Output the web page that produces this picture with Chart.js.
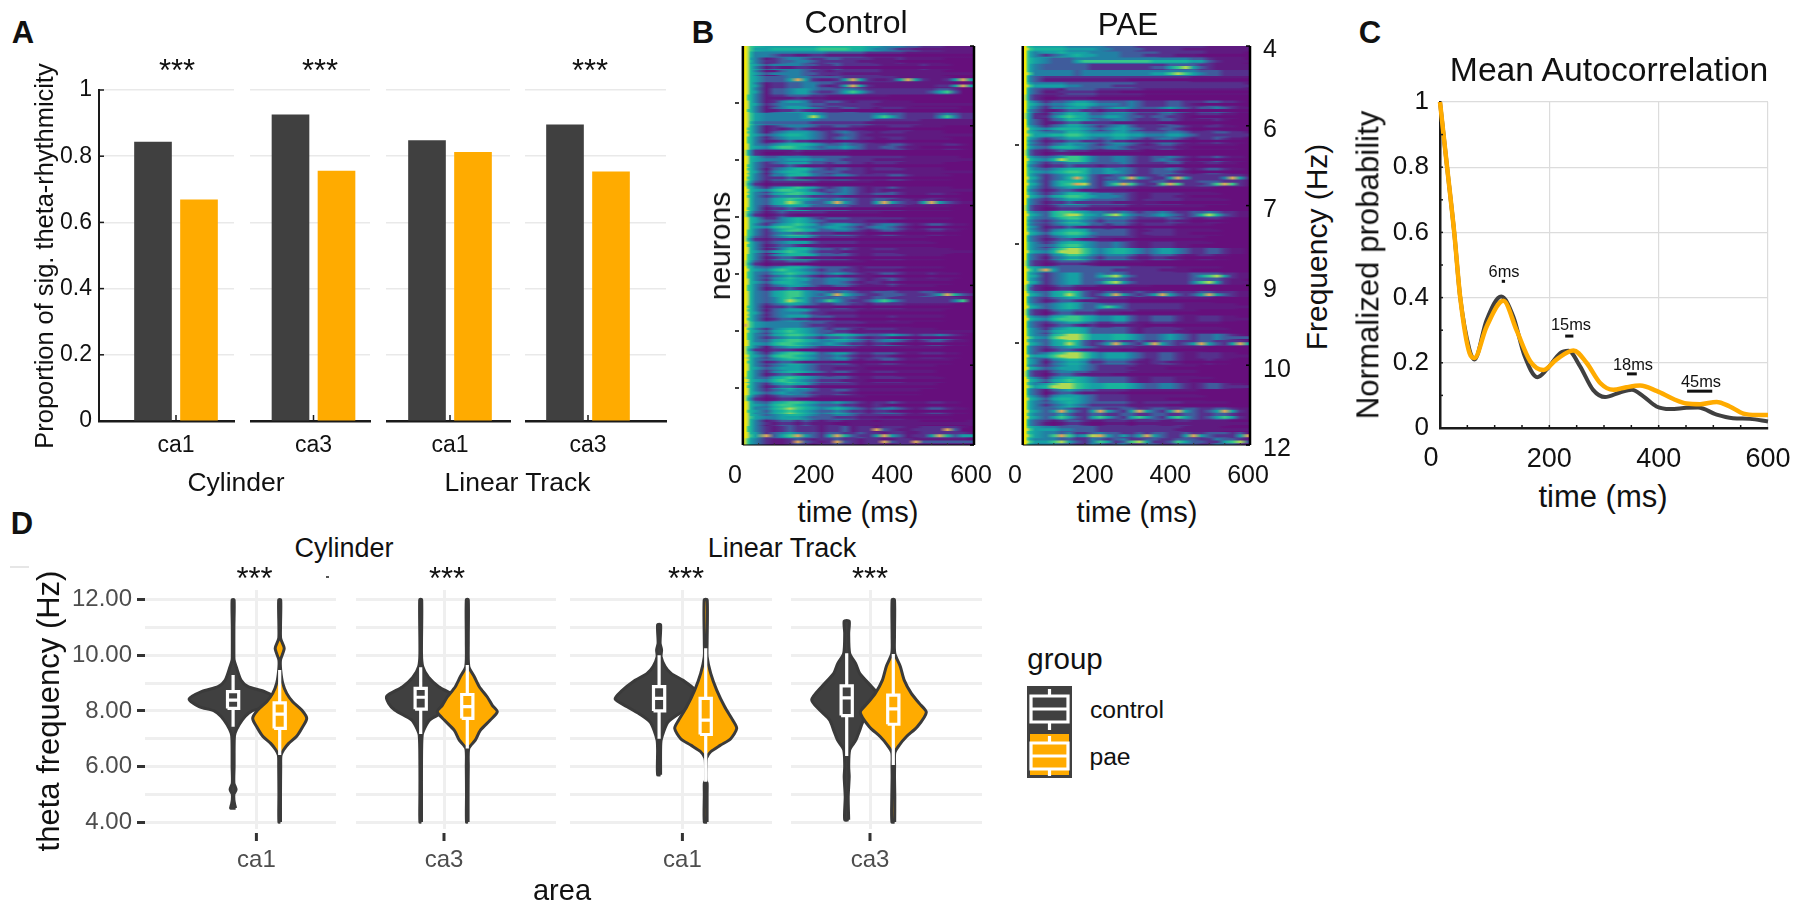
<!DOCTYPE html>
<html>
<head>
<meta charset="utf-8">
<title>Theta rhythmicity</title>
<style>
body { margin: 0; width: 1800px; height: 908px; background: #fff; position: relative; overflow: hidden; font-family: "Liberation Sans", Arial, sans-serif; }
canvas { position: absolute; filter: blur(0.35px); }
.t { position: absolute; white-space: nowrap; color: #111; transform: translate(-50%, -50%); line-height: 1; }
canvas.heat { filter: blur(0.7px); }
</style>
<script src="https://cdn.jsdelivr.net/npm/chart.js@4"></script>
</head>
<body>
<script>
// ---- panel A
const areaLabels = ['ca1', 'ca3', 'ca1', 'ca3'];
const controlProportion = [0.843, 0.925, 0.847, 0.895];
const paeProportion = [0.668, 0.755, 0.812, 0.753];
const proportionTicks = [0, 0.2, 0.4, 0.6, 0.8, 1];

// ---- panel B, one string per neuron, one character per time bin (0-9 colour level, a = hot streak)
// a short string keeps its last level up to the end of the row
const heatTimes = [20, 27, 33, 40, 52, 80, 100, 120, 140, 160, 180, 200, 220, 240, 260, 280, 300, 320, 340, 360, 380, 400, 420, 440, 460, 480, 500, 520, 540, 560, 580, 600];
const heatColours = ['#660f7c', '#5f1a80', '#55308c', '#3f5c9c', '#2280a4', '#16a0a4', '#18b49c', '#38c88a', '#b0da54', '#f6ea08', '#dca65c'];
const frequencyTicks = ['4', '6', '7', '9', '10', '12'];
const controlRows = [
  '99876555555566666655444332221111', '99864444444443333322222111111111', '99854123443223322221112111110000', '99865344443322322222111112111000',
  '99864113443221222222111111110000', '99865333444333322222221111111000', '99864122334433222111111111111000', '99864133455433344322222222233200',
  '99764122333221111111100000000000', '99864124554223321222111100000000', '99864134555432233221222111111100', '99875444445543333334433222234322',
  '99875444444433333332222221111111', '99864123444322332211122211110000', '99764134555432343221222111110000', '99764234555432343221122111111000',
  '99864345666543343322233211112210', '98642111121111110000000000000000', '99865334444333332222222111111100', '99864234555332332212221111110000',
  '99764134566432332212222111110000', '99864244666433443222233211111000', '98753122222211111110000000000000', '99764245676532343212232111111000',
  '99864356776543443223332111221100', '99864356765433433223322212211100', '99864234555333332222222111111000', '98753123222221111111000000000000',
  '99865224565323332222222111111000', '99864245676534554323443212332110', '99764246776533443212332111221100', '98753234555322222111111111000000',
  '99864234555322222111111111100000', '99864124666433232112221111111000', '99764245666533332112222111110000', '98753122333211111100000000000000',
  '99764345665433332122222111110000', '99764356765434543212332111211100', '99864245655334443212232111111000', '99764234554322332111121111100000',
  '99864356775443343223332223322110', '99864346755333433223322222222210', '99864234554322332212222111111000', '99764134555322222111111111110000',
  '99864234555333222111121111110000', '99875444443332222211111100000000', '99764245665432332122221111100000', '99764356776545665433454323343210',
  '99864356776544554323443212332110', '98764134554322222111111111110000', '98764246776534553223332112221100', '99864345665433442122332111111000',
  '99864234554322222111111111100000', '99764245665432332112221111100000', '98764356765433332112222111110000', '99864245655322222111111111100000',
  '99864234544322332111111110000000', '98753123333211111100000000000000', '99864356776544543212232111221100', '99864467876545654323443212332110',
  '99865345665433443222222111111000', '99864123323212211110111110000001', '99764212322212231221222112222210', '99865234543323322322122112222221', '98754211232122322122112211111110'
];
const controlFine = [
  '99875566666677776654432211', '99864432211221111100000', '99864223344322222111110', '99864121122111100000',
  '99865344443322211111111', '998653335a521125a521125a521125a5', '9986512233442125a5211111111225a5', '99865133455322357532222222357300',
  '99764111121110000', '99865234444332222221111', '99764112232111100', '99875444445853333335753222247422',
  '99864333333222222211111', '99764121232111111000', '99865345665432233211111', '99764112322111011100',
  '99865467765434454322332110', '9864200011000', '99865444555443322221111', '99764222321111000',
  '99865245665333322211111', '99764222321110000', '98642011110000', '99865467765323343212111',
  '99764234443222211111000', '99864356874335a53225a53225a53211', '99764122321111000', '98642012100000',
  '99865334565432222211100', '99865467765445543234432100', '99764234433222111100', '98642122210000',
  '99764123321110000', '99865356765322211111', '99764123321111000', '98642011100000',
  '99865467654323322111110', '99764234543212211110', '99865356654334432122110', '99764122321100',
  '99864356775435a6432233322235a632', '99864346875347532235753222222470', '99764122321111000', '99865234443221111000',
  '99764123322111000', '9a875444443222111000', '99865356765433221111', '99764234554323343212210',
  '99865467765445432212210', '98642122210000', '99865367765433432112210', '99764123321111000',
  '99865345554322111100', '99764123321111000', '99865467654322211100', '99764123321100',
  '99865345443222211000', '98642012210000', '99865467765433322112100', '99765356765433432212210',
  '99875445554333222111000', '99864212212111001', '9976421232221223122a32112222a30', '99875a357a5325a63225a531225a635', '987542112a3212a32122a322a3'
];
const paeRows = [
  '99765555444443333222222222111111', '99754556555444433333222222111110', '99765433344444444444444433211110', '99754333333222222222233332211111',
  '99754444434444444444444443332222', '99643222222222222222222211111111', '99754444333333333222222222222221', '99643221333322222211111111111111',
  '98632112222211111100000000000000', '99754233455433334322233222332210', '99754244555334554333454323343211', '98642134655334443222332112221100',
  '99643134665433443222332111121000', '99754234554323453222233211221100', '99765444665444554433344322233221', '99754234555434554323443212232110',
  '99643234544323443212332111111100', '98632123222111111100000000000000', '99754345776433443223343212232110', '99754233444333343222233111221100',
  '99754345666445443223343212332110', '99754234565322332222322222222221', '99754246665324433223322223332221', '99754234554322222111111111100000',
  '99754234666444332112222111110000', '99643234554333332122222111111000', '98632123333222221111111111000000', '99754367765443343233432233432211',
  '99754346775434443222233211221000', '99643234555332332122221111100000', '99754245665333332112221111110000', '99643234554322222111111111000000',
  '99754235665433432112221111100000', '99754357887545665434554322332110', '99643245776434443223332112211000', '98632123333211111100000000000000',
  '99765443333333332222221111110000', '99754234553343432222222233332211', '99754234553334432222222233332110', '98642123322211111110000000000000',
  '99754356763223322322332223322211', '99643234554322221111111111100000', '99754345653343332222222111111100', '98632134433322222111111110000000',
  '99754356776544553223332112221100', '99643234554322332112221111110000', '99754245665333332122222111111000', '99754367887555665433454323343210',
  '99754356763223322322332223322221', '99643234554322222111111111000000', '99643467887545554322332112221100', '99754245665334443212332111211000',
  '99643234554322222111111110000000', '98632134433222221111111110000000', '99754245665433332112221111100000', '99754578876556665433443212332110',
  '99643134543322221111111110000000', '99754245554322221111111111000000', '99754345654333332122222111111000', '99754334322332233223322332233211',
  '99754335322332233223322332233211', '99643212332112221222112211111000', '99765443333322222222222111110000', '99765443422343322323322322333231', '99754443322432342233223332243321'
];
const paeFine = [
  '99876666555544333322222111', '99754234565544433322221110', '9976543335777777777666665532111', '9975433333322222222335785321111',
  '9987444443444444444557875433222', '99643111111111110000', '99875555443333222222222', '99643112222211100000',
  '98632001111000', '99765344566544434322233210', '99643112332212221111110', '98642246765445543323322100',
  '99643112332222111111000', '99865456665434554322332100', '99875566776555665544455432', '99643122332223221111110',
  '99754356654334432222221100', '98632011100000', '99865468776433443223432100', '99643122322212221111100',
  '99765456776445543223332100', '998652346a632336a53225a522224a52', '998652467a83247a73227a722237a721', '99643123321111110000',
  '99865356776544432112221100', '99643122322222111111000', '98632012221111000', '99865367886547864334543236863211',
  '99643234554323332111121100', '99754122321111000', '99865356776433332122221100', '99643123321111000',
  '99754346775433432112221100', '99865468887545665434554322332110', '99643134554323332112211000', '98632012221100000',
  '99875a53333333222222111100', '99765234553357853222222235785211', '998652345533478532222222478521', '98632012210000',
  '99865356863235a53235a53235a53211', '99643123321111110000', '99865345653357532222222111111', '98632023322211100000',
  '99865467776544553223332112221', '99643123321211111100', '99754356665333332122221100', '99875478887555665433454323343',
  '99865356863235a5325a53235a5325a5', '99643123321111100000', '99865578887545554322332112221', '99754134554223332112211000',
  '99865345554322221111100', '98632023321111000', '99865356765433332112221100', '99875688876556665433443212332',
  '99643023321111100000', '99865356654322221111100', '99754234543222221111100', '9986535a5325a5325a5325a53235a521',
  '99865357532575325753257532357521', '99643101221001110111', '99875554433322222222221', '9987547a7458a53535a53225a532225a', '99875578532475237852237533225783'
];

// ---- panel C
const autocorrTimeControl = [0, 13, 26, 37, 54, 63, 85, 112, 134, 155, 178, 195, 220, 235, 256, 280, 302, 329, 351, 372, 396, 421, 451, 472, 506, 536, 567, 600];
const autocorrControl = [1, 0.8, 0.6, 0.4, 0.24, 0.21, 0.33, 0.403, 0.342, 0.22, 0.156, 0.179, 0.23, 0.237, 0.19, 0.117, 0.095, 0.109, 0.117, 0.097, 0.066, 0.058, 0.062, 0.063, 0.041, 0.03, 0.028, 0.02];
const autocorrTimePae = [0, 13, 26, 37, 54, 63, 85, 116, 140, 165, 189, 213, 244, 268, 293, 317, 341, 366, 396, 427, 451, 476, 506, 530, 555, 579, 600];
const autocorrPae = [1, 0.8, 0.6, 0.4, 0.23, 0.215, 0.31, 0.39, 0.3, 0.205, 0.178, 0.21, 0.238, 0.2, 0.138, 0.117, 0.125, 0.13, 0.114, 0.089, 0.075, 0.073, 0.08, 0.066, 0.044, 0.04, 0.04];
const lagLabels = ['6ms', '15ms', '18ms', '45ms'];
const lagStart = [113, 229, 342, 452];
const lagEnd = [119, 244, 360, 498];
const lagHeight = [0.45, 0.282, 0.166, 0.113];

// ---- panel D, violin outlines: frequency levels and half widths
const cylCa1CtrlF = [4.5, 4.65, 4.8, 5, 5.17, 5.4, 6, 6.5, 7, 7.2, 7.5, 7.8, 8, 8.15, 8.43, 8.7, 8.87, 9.1, 9.6, 9.83, 10, 11, 12];
const cylCa1CtrlW = [2.5, 1.5, 0.8, 0.8, 3, 0.8, 1, 1, 1.2, 2, 6, 12, 19, 34, 44, 31, 15, 8, 3, 1, 0.8, 0.8, 1];
const cylCa1PaeF = [4, 5, 6, 6.4, 6.6, 6.83, 7.07, 7.37, 7.73, 8.03, 8.33, 8.63, 9, 9.47, 9.83, 10.25, 10.6, 11, 12];
const cylCa1PaeW = [0.8, 0.8, 1, 1.3, 4, 9, 16.5, 22, 27, 22, 13, 7, 3, 1, 0.8, 4.5, 1, 0.8, 1];
const cylCa3CtrlF = [4, 5, 6, 7.13, 7.45, 7.67, 8.03, 8.27, 8.53, 8.87, 9.2, 9.6, 10.07, 12];
const cylCa3CtrlW = [0.8, 0.8, 0.8, 1.5, 5, 9, 26, 32, 34, 18, 8, 2, 0.8, 1];
const cylCa3PaeF = [4, 5, 6, 6.65, 6.95, 7.3, 7.67, 7.97, 8.2, 8.5, 8.87, 9.23, 9.6, 10.5, 12];
const cylCa3PaeW = [0.8, 0.8, 1, 1.5, 8, 13, 23, 30, 25, 20, 12, 7, 1.5, 1, 1];
const linCa1CtrlF = [5.7, 6.6, 6.94, 7.3, 7.6, 7.85, 8.15, 8.43, 8.7, 9.1, 9.35, 9.6, 9.95, 10.2, 10.43, 11.1];
const linCa1CtrlW = [1.5, 1.5, 2, 5, 9, 18, 32, 44, 38, 24, 12, 6, 2, 2.5, 1, 1.5];
const linCa1PaeF = [4, 5, 5.4, 5.5, 6, 6.3, 6.53, 6.77, 7, 7.37, 7.67, 8.15, 8.75, 9.35, 9.95, 10.43, 12];
const linCa1PaeW = [1.4, 1.4, 1.4, 0.2, 0.2, 0.8, 5, 15, 25, 31, 27, 19, 11, 5, 1.4, 1.4, 1.5];
const linCa3CtrlF = [4.08, 4.9, 5.63, 6, 6.6, 6.94, 7.3, 7.67, 8.03, 8.4, 8.87, 9.35, 9.7, 10.07, 10.8, 11.23];
const linCa3CtrlW = [2, 1.5, 2.5, 2, 3, 9, 13, 17, 27, 35, 25, 13, 9, 3, 2, 2.5];
const linCa3PaeF = [4, 4.9, 5.6, 6, 6.5, 6.77, 7.07, 7.43, 7.95, 8.27, 8.63, 9.1, 9.6, 10.07, 10.7, 12];
const linCa3PaeW = [1.4, 1.5, 1.2, 1.3, 1.5, 6, 13, 24, 33, 26, 18, 11, 7, 1.5, 1.2, 1.2];
// low whisker, q1, median, q3, high whisker
const boxControl = [[7.43, 8.09, 8.39, 8.69, 9.29], [7.17, 8.06, 8.49, 8.81, 9.57], [7, 8, 8.45, 8.87, 10], [6.38, 7.83, 8.47, 8.9, 10.07]];
const boxPae = [[6.41, 7.37, 7.88, 8.29, 9.47], [6.65, 7.73, 8.15, 8.59, 9.65], [5.45, 7.15, 7.67, 8.45, 10.25], [6.05, 7.52, 8.07, 8.57, 10.05]];
const freqTicks = [4, 5, 6, 7, 8, 9, 10, 11, 12];

const DARK = '#404040', ORANGE = '#ffab00', INK = '#1a1a1a';
Chart.defaults.font.family = '"Liberation Sans", Arial, sans-serif';
Chart.defaults.color = '#111';

function label(text, x, y, size, opt) {
  opt = opt || {};
  let d = document.createElement('div');
  d.className = 't';
  d.textContent = text;
  d.style.left = x + 'px';
  d.style.top = y + 'px';
  d.style.fontSize = size + 'px';
  if (opt.bold) d.style.fontWeight = 'bold';
  if (opt.color) d.style.color = opt.color;
  if (opt.rot) d.style.transform = 'translate(-50%, -50%) rotate(-90deg)';
  document.body.appendChild(d);
}

// canvas sized around an exact plot box
function makeCanvas(p, cls) {
  let c = document.createElement('canvas');
  c.width = p.x1 - p.x0 + p.l + p.r;
  c.height = p.y1 - p.y0 + p.t + p.b;
  c.style.left = (p.x0 - p.l) + 'px';
  c.style.top = (p.y0 - p.t) + 'px';
  if (cls) c.className = cls;
  document.body.appendChild(c);
  return c;
}
function fit(size) {
  return s => {
    if (s.isHorizontal()) { s.height = size; s.paddingLeft = 0; s.paddingRight = 0; }
    else { s.width = size; s.paddingTop = 0; s.paddingBottom = 0; }
  };
}
function at(values) {
  return s => { s.ticks = values.map(v => ({ value: v })); };
}
const baseOptions = p => ({
  responsive: false, animation: false, devicePixelRatio: 1, events: [],
  layout: { padding: { top: p.t, right: p.r, left: 0, bottom: 0 } },
  plugins: { legend: { display: false }, tooltip: { enabled: false }, filler: { drawTime: 'beforeDatasetDraw' } }
});
// short ticks drawn inside the plot
function innerTicks(list) {
  return {
    id: 'innerTicks',
    afterDatasetsDraw(chart) {
      const c = chart.ctx, a = chart.chartArea;
      c.save();
      list.forEach(k => {
        c.strokeStyle = k.color || INK;
        c.lineWidth = k.width || 1.5;
        k.values.forEach(v => {
          let s = chart.scales[k.scale].getPixelForValue(v);
          c.beginPath();
          if (k.edge === 'bottom') { c.moveTo(s, a.bottom + (k.gap || 0)); c.lineTo(s, a.bottom + (k.gap || 0) + k.len); }
          if (k.edge === 'left') { c.moveTo(a.left, s); c.lineTo(a.left + k.len, s); }
          if (k.edge === 'right') { c.moveTo(a.right, s); c.lineTo(a.right - k.len, s); }
          if (k.edge === 'up') { c.moveTo(s, a.bottom); c.lineTo(s, a.bottom - k.len); }
          c.stroke();
        });
      });
      c.restore();
    }
  };
}

// ---------- A
const facetsA = [[99, 233.5, 176], [250, 370, 313.5], [386, 510, 450], [525, 666, 588]];
facetsA.forEach((f, i) => {
  const p = { x0: f[0], x1: Math.round(f[1]), y0: 90, y1: 421, l: i ? 0 : 99, r: 4, t: 16, b: 50 };
  const unit = 46;
  const o = baseOptions(p);
  o.scales = {
    x: { type: 'linear', offset: false, min: (f[0] - f[2]) / unit, max: (p.x1 - f[2]) / unit, afterBuildTicks: at([0]), afterFit: fit(p.b),
      grid: { display: false, offset: false }, border: { color: INK, width: 2.5 },
      ticks: { callback: () => areaLabels[i], font: { size: 23 }, padding: 3, maxRotation: 0, autoSkip: false } },
    y: { min: 0, max: 1, afterBuildTicks: at(proportionTicks), afterFit: fit(p.l),
      grid: { color: '#e9e9e9', lineWidth: 1.5, drawTicks: false }, border: { display: i === 0, color: INK, width: 2 },
      ticks: { display: i === 0, callback: v => String(v), font: { size: 23 }, padding: 7 } }
  };
  new Chart(makeCanvas(p), {
    type: 'bar',
    data: { datasets: [
      { data: [{ x: -0.5, y: controlProportion[i] }], backgroundColor: DARK, barThickness: 37, grouped: false },
      { data: [{ x: 0.5, y: paeProportion[i] }], backgroundColor: ORANGE, barThickness: 37, grouped: false }
    ] },
    options: o,
    plugins: [innerTicks([{ scale: 'x', edge: 'up', values: [0], len: 6 }].concat(i ? [] : [{ scale: 'y', edge: 'left', values: proportionTicks, len: 5 }]))]
  });
});

// ---------- B
function heatmap(p, rows, fine, xMax, neuronMax, neuronTicks, showFreq) {
  const o = baseOptions(p);
  o.layout.padding.right = 0;
  o.indexAxis = 'y';
  o.scales = {
    x: { type: 'linear', min: 0, max: xMax, afterBuildTicks: at([0, 200, 400, 600]), afterFit: fit(p.b),
      grid: { display: false }, border: { display: false },
      ticks: { font: { size: 25 }, padding: 8, maxRotation: 0, autoSkip: false } },
    y: { type: 'category', display: false, offset: true, afterFit: fit(0) },
    yl: { type: 'linear', position: 'left', offset: false, reverse: true, min: 0, max: neuronMax, afterBuildTicks: at(neuronTicks), afterFit: fit(p.l),
      grid: { display: false, offset: false }, border: { display: false }, ticks: { display: false } },
    yr: { type: 'linear', position: 'right', offset: false, reverse: true, min: 0, max: frequencyTicks.length - 1, afterBuildTicks: at(frequencyTicks.map((v, i) => i)), afterFit: fit(p.r),
      grid: { display: false, offset: false }, border: { display: false },
      ticks: { display: showFreq, callback: v => frequencyTicks[v], font: { size: 25 }, padding: 5, labelOffset: 4.5, autoSkip: false } }
  };
  const frame = {
    id: 'frame',
    afterDatasetsDraw(chart) {
      const c = chart.ctx, a = chart.chartArea, x = chart.scales.x;
      c.save();
      c.strokeStyle = '#000';
      c.lineWidth = 2.5;
      [20, xMax].forEach(v => { c.beginPath(); c.moveTo(x.getPixelForValue(v), a.top); c.lineTo(x.getPixelForValue(v), a.bottom); c.stroke(); });
      c.lineWidth = 1;
      c.beginPath(); c.moveTo(x.getPixelForValue(20), a.bottom); c.lineTo(a.right, a.bottom); c.stroke();
      c.restore();
    }
  };
  const rowFill = source => context => {
    const chart = context.chart;
    const xs = chart.scales.x;
    if (!xs || context.dataIndex === undefined) return '#660f7c';
    const x0 = xs.getPixelForValue(20), x1 = xs.getPixelForValue(xMax);
    if (!Number.isFinite(x0) || !Number.isFinite(x1)) return '#660f7c';
    const g = chart.ctx.createLinearGradient(x0, 0, x1, 0);
    source[context.dataIndex].split('').forEach((ch, k) => {
      if (k < heatTimes.length) g.addColorStop(Math.min(1, (heatTimes[k] - 20) / (xMax - 20)), heatColours[parseInt(ch, 16)]);
    });
    return g;
  };
  new Chart(makeCanvas(p, 'heat'), {
    type: 'bar',
    data: { labels: rows.map((r, i) => i), datasets: [
      { data: fine.map(() => [20, xMax]), barThickness: 2.2, borderWidth: 0, grouped: false, backgroundColor: rowFill(fine) },
      { data: rows.map(() => [20, xMax]), barThickness: 6.8, borderWidth: 0, grouped: false, backgroundColor: rowFill(rows) }
    ] },
    options: o,
    plugins: [frame, innerTicks([
      { scale: 'yl', edge: 'left', values: neuronTicks, len: 4, width: 1.5, color: '#000' },
      { scale: 'yr', edge: 'right', values: frequencyTicks.map((v, i) => i), len: 4, width: 1.5, color: '#000' },
      { scale: 'x', edge: 'up', values: [60, 100, 140, 180, 220, 260, 300, 340, 380, 420, 460, 500, 540, 580], len: 2, width: 1, color: '#333' }
    ])]
  });
}
heatmap({ x0: 735, x1: 974, y0: 46, y1: 445, l: 14, r: 28, t: 4, b: 46 }, controlRows, controlFine, 607.6, 7, [1, 2, 3, 4, 5, 6], false);
heatmap({ x0: 1015, x1: 1250, y0: 46, y1: 445, l: 14, r: 44, t: 16, b: 46 }, paeRows, paeFine, 605, 4.03, [1, 2, 3], true);

// ---------- C
(function () {
  const p = { x0: 1440, x1: 1768, y0: 102, y1: 428, l: 60, r: 28, t: 16, b: 44 };
  const o = baseOptions(p);
  const grid = { color: '#dcdcdc', lineWidth: 1.2, drawTicks: false };
  o.scales = {
    x: { type: 'linear', min: 0, max: 600, afterBuildTicks: at([0, 200, 400, 600]), afterFit: fit(p.b), grid: grid, border: { color: INK, width: 2.5 },
      ticks: { callback: v => v === 0 ? '' : String(v), font: { size: 27 }, padding: 15, maxRotation: 0, autoSkip: false } },
    y: { min: 0, max: 1, afterBuildTicks: at([0, 0.2, 0.4, 0.6, 0.8, 1]), afterFit: fit(p.l), grid: grid, border: { color: INK, width: 2.5 },
      ticks: { callback: v => String(v), font: { size: 26 }, padding: 11 } }
  };
  const pairs = (xs, ys) => xs.map((x, i) => ({ x: x, y: ys[i] }));
  const lagSets = lagLabels.map((l, i) => ({
    label: l, data: [{ x: lagStart[i], y: lagHeight[i] }, { x: lagEnd[i], y: lagHeight[i] }],
    borderColor: '#111', borderWidth: 3, pointRadius: 0
  }));
  new Chart(makeCanvas(p), {
    type: 'line',
    data: { datasets: lagSets.concat([
      { label: 'pae', data: pairs(autocorrTimePae, autocorrPae), borderColor: ORANGE, borderWidth: 4.5, pointRadius: 0, tension: 0.4, cubicInterpolationMode: 'monotone', clip: false },
      { label: 'control', data: pairs(autocorrTimeControl, autocorrControl), borderColor: DARK, borderWidth: 4, pointRadius: 0, tension: 0.4, cubicInterpolationMode: 'monotone', clip: false }
    ]) },
    options: o,
    plugins: [innerTicks([
      { scale: 'x', edge: 'up', values: [50, 100, 150, 200, 250, 300, 350, 400, 450, 500, 550], len: 3, width: 1.5 },
      { scale: 'y', edge: 'left', values: [0.1, 0.2, 0.3, 0.4, 0.5, 0.6, 0.7, 0.8, 0.9], len: 3, width: 1.5 }
    ])]
  });
})();

// ---------- D
function violin(cx, f, w, fill) {
  const right = f.map((v, i) => ({ x: cx + w[i], y: v }));
  const left = f.map((v, i) => ({ x: cx - w[i], y: v })).reverse();
  return { data: right.concat(left, [right[0]]), borderColor: '#3a3a3a', borderWidth: 3, backgroundColor: fill, fill: 'shape', tension: 0.25, pointRadius: 0, clip: false };
}
function boxPath(cx, b) {
  const gap = { x: cx, y: null }, h = 5.6;
  return {
    data: [{ x: cx, y: b[0] }, { x: cx, y: b[1] }, gap,
      { x: cx - h, y: b[1] }, { x: cx + h, y: b[1] }, { x: cx + h, y: b[3] }, { x: cx - h, y: b[3] }, { x: cx - h, y: b[1] }, gap,
      { x: cx - h, y: b[2] }, { x: cx + h, y: b[2] }, gap,
      { x: cx, y: b[3] }, { x: cx, y: b[4] }],
    borderColor: '#fff', borderWidth: 3.2, pointRadius: 0, tension: 0, fill: false, clip: false
  };
}
const facetsD = [
  [145, 336, 256.4, cylCa1CtrlF, cylCa1CtrlW, cylCa1PaeF, cylCa1PaeW],
  [356, 556, 444, cylCa3CtrlF, cylCa3CtrlW, cylCa3PaeF, cylCa3PaeW],
  [570, 772, 682.4, linCa1CtrlF, linCa1CtrlW, linCa1PaeF, linCa1PaeW],
  [791, 982, 870, linCa3CtrlF, linCa3CtrlW, linCa3PaeF, linCa3PaeW]
];
facetsD.forEach((f, i) => {
  const p = { x0: f[0], x1: f[1], y0: 590, y1: 829, l: i ? 0 : 145, r: 4, t: 4, b: 50 };
  const o = baseOptions(p);
  o.scales = {
    x: { type: 'linear', min: f[0] - f[2], max: f[1] - f[2], afterBuildTicks: at([0]), afterFit: fit(p.b),
      grid: { color: '#efefef', lineWidth: 3, drawTicks: false }, border: { display: false },
      ticks: { callback: () => areaLabels[i], color: '#4d4d4d', font: { size: 24 }, padding: 17, maxRotation: 0, autoSkip: false } },
    y: { min: 3.75, max: 12.35, afterBuildTicks: at(freqTicks), afterFit: fit(p.l),
      grid: { color: '#efefef', lineWidth: 3, drawTicks: i === 0, tickLength: 8, tickWidth: 3, tickColor: c => c.tick && c.tick.value % 2 === 0 ? '#333' : 'rgba(0,0,0,0)' },
      border: { display: false },
      ticks: { display: i === 0, callback: v => v % 2 === 0 ? v.toFixed(2) : '', color: '#4d4d4d', font: { size: 24 }, padding: 5, autoSkip: false } }
  };
  new Chart(makeCanvas(p), {
    type: 'line',
    data: { datasets: [
      boxPath(-23.3, boxControl[i]), boxPath(23.3, boxPae[i]),
      violin(23.3, f[5], f[6], ORANGE), violin(-23.3, f[3], f[4], DARK)
    ] },
    options: o,
    plugins: [innerTicks([{ scale: 'x', edge: 'bottom', values: [0], gap: 4, len: 8, width: 3, color: '#333' }])]
  });
});

// ---------- text
label('A', 23, 32, 31, { bold: true });
label('B', 703, 32, 31, { bold: true });
label('C', 1370, 32, 31, { bold: true });
label('D', 22, 523, 31, { bold: true });

label('***', 177, 70, 31); label('***', 320, 70, 31); label('***', 590, 70, 31);
label('Proportion of sig.  theta-rhythmicity', 45, 256, 25.4, { rot: true });
label('Cylinder', 236, 482, 26.5);
label('Linear Track', 517.5, 482, 26.5);

label('Control', 856, 22, 32);
label('PAE', 1128, 25, 31.5);
label('time (ms)', 858, 512, 29);
label('time (ms)', 1137, 512, 29);
label('neurons', 720, 246, 30, { rot: true });
label('Frequency (Hz)', 1317, 247, 30, { rot: true });

label('Mean Autocorrelation', 1609, 70, 33.7);
label('Normalized probability', 1368, 265, 31.2, { rot: true });
label('time (ms)', 1603, 496, 31);
label('0', 1431, 457, 27);
label('6ms', 1504, 271, 16.4);
label('15ms', 1571, 324, 16.4);
label('18ms', 1633, 364, 16.4);
label('45ms', 1701, 381, 16.4);

label('Cylinder', 344, 548, 27);
label('Linear Track', 782, 548, 27);
label('***', 254.5, 578, 31); label('***', 447, 578, 31); label('***', 686, 578, 31); label('***', 870, 578, 31);
label('theta frequency  (Hz)', 48, 711, 31, { rot: true });
label('area', 562, 890, 29);
label('group', 1065, 659, 29.5);
label('control', 1127, 710, 24.7);
label('pae', 1110, 757, 24.7);
</script>
<svg style="position:absolute;left:1027px;top:686px" width="46" height="93">
  <rect x="0" y="0" width="45" height="92" fill="#404040"/>
  <rect x="3" y="48" width="39" height="41" fill="#ffab00"/>
  <g fill="none" stroke="#fff" stroke-width="3.2">
    <path d="M22.5 3V10M4 10H41V36H4ZM4 23H41M22.5 36V44"/>
    <path d="M22.5 50V57M4 57H41V83H4ZM4 70H41M22.5 83V90"/>
  </g>
</svg>
<div style="position:absolute;left:10px;top:566px;width:19px;height:1.5px;background:#e6e6e6"></div>
<div style="position:absolute;left:326px;top:576px;width:3px;height:2px;background:#555"></div>
</body>
</html>
